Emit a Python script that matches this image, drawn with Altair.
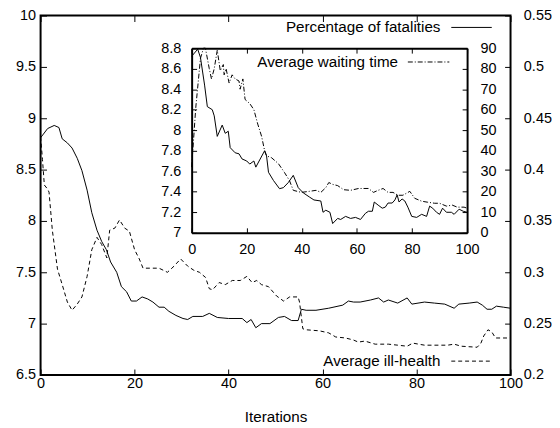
import altair as alt
import pandas as pd

# ---------------- data ----------------
iter_fat = [0, 1.5, 2.9, 3.9, 4.6, 5.7, 6.7, 7.8, 8.8, 9.9,
            10.9, 12, 13, 14, 14.9, 16.2, 17.2, 18.3, 19.3, 20.4,
            21.6, 22.8, 23.9, 25.2, 26.3, 27.3, 28.8, 30.3, 31.3, 32.4,
            34.5, 35.9, 37.6, 40, 42.9, 43.9, 44.8, 45.8, 47, 48.8,
            50.6, 51.9, 53.4, 54.8, 55.5, 56.5, 58.6, 61.3, 64.3, 65.5,
            66.6, 68, 70.2, 71.9, 73, 74, 76, 78, 79, 81.7,
            83.8, 86, 88, 89, 91.2, 92.9, 94, 95, 96, 97,
            98.5, 100]
fatalities = [8.81, 8.9, 8.93, 8.91, 8.8, 8.76, 8.71, 8.61, 8.49, 8.3,
              8.08, 7.91, 7.8, 7.72, 7.6, 7.5, 7.36, 7.31, 7.22, 7.22,
              7.26, 7.24, 7.21, 7.16, 7.16, 7.12, 7.08, 7.05, 7.04, 7.07,
              7.07, 7.1, 7.06, 7.05, 7.05, 7.01, 7.04, 6.96, 7.0, 7.0,
              7.06, 7.07, 7.03, 7.03, 7.14, 7.13, 7.13, 7.15, 7.18, 7.22,
              7.21, 7.21, 7.23, 7.25, 7.21, 7.23, 7.2, 7.25, 7.19, 7.21,
              7.2, 7.19, 7.15, 7.19, 7.2, 7.21, 7.18, 7.14, 7.14, 7.17,
              7.16, 7.15]

iter_ill = [0, 0.4, 0.8, 1.5, 1.8, 2.5, 3.6, 4.6, 5.7, 6.7,
            7.8, 8.8, 9.9, 10.9, 12, 13, 14.1, 14.7, 15.8, 16.8,
            17.9, 18.9, 20, 21, 21.8, 23.5, 25.2, 27, 28.4, 29.8,
            31.3, 32.6, 33.8, 35.1, 35.9, 36.6, 38, 39.3, 40.8, 42.5,
            43.9, 45, 46, 47, 48.5, 50.2, 51.7, 53, 54.8, 55.1,
            55.8, 56.5, 59.3, 61.3, 62.8, 64.9, 66.6, 67.6, 69, 71.2,
            74, 76, 78, 79.2, 81.7, 83.8, 86.6, 88, 89.5, 92.9,
            93.7, 94.3, 95.2, 96, 96.8, 97.9, 100]
ill_health = [0.432, 0.41, 0.385, 0.381, 0.378, 0.341, 0.303, 0.288, 0.271, 0.263,
              0.269, 0.276, 0.296, 0.322, 0.334, 0.327, 0.314, 0.341, 0.343, 0.351,
              0.343, 0.34, 0.322, 0.313, 0.304, 0.304, 0.304, 0.3, 0.306, 0.313,
              0.306, 0.302, 0.3, 0.295, 0.284, 0.283, 0.29, 0.288, 0.292, 0.292,
              0.296, 0.29, 0.292, 0.288, 0.286, 0.277, 0.272, 0.276, 0.276, 0.271,
              0.245, 0.244, 0.243, 0.241, 0.237, 0.236, 0.234, 0.232, 0.233, 0.23,
              0.23, 0.229, 0.228, 0.231, 0.229, 0.229, 0.229, 0.23, 0.228, 0.227,
              0.231, 0.238, 0.244, 0.242, 0.236, 0.236, 0.236]

inset_iter_fat = [0, 2.2, 3.2, 4.7, 5.7, 7.5, 8.2, 9.3, 11.1, 12.2,
                  13.3, 14, 15.8, 17.2, 18.3, 20, 21.1, 22.6, 23.3, 24.7,
                  26.5, 27.2, 27.9, 29.7, 31.9, 33.3, 35.1, 36.9, 38.7, 40.5,
                  42.7, 44.4, 46.9, 47.7, 48.7, 50.2, 51.2, 53, 54.1, 55.9,
                  57.7, 59.5, 61.3, 63.1, 64.2, 65.6, 66.3, 67.7, 69.2, 70.3,
                  71.3, 72.8, 73.8, 74.6, 75.3, 76.4, 77.4, 78.5, 79.9, 81.7,
                  83.5, 85.3, 86.4, 87.5, 88.9, 90, 91.1, 92.5, 94.3, 95.3,
                  97.1, 98.6, 100]
inset_fatalities = [8.72, 8.79, 8.71, 8.44, 8.23, 8.2, 8.14, 7.94, 8.05, 7.97,
                    7.99, 7.83, 7.78, 7.77, 7.72, 7.7, 7.67, 7.7, 7.64, 7.71,
                    7.8, 7.75, 7.59, 7.51, 7.43, 7.44, 7.49, 7.56, 7.44, 7.39,
                    7.35, 7.32, 7.31, 7.2, 7.22, 7.2, 7.09, 7.14, 7.13, 7.16,
                    7.14, 7.15, 7.13, 7.19, 7.21, 7.21, 7.3, 7.27, 7.24, 7.25,
                    7.29, 7.29, 7.32, 7.37, 7.3, 7.33, 7.31, 7.25, 7.16, 7.15,
                    7.18, 7.16, 7.26, 7.24, 7.2, 7.18, 7.24, 7.2, 7.2, 7.18,
                    7.23, 7.21, 7.2]

inset_iter_wait = [0, 1.5, 3.2, 4.3, 5, 6.4, 7.2, 8.2, 9.3, 10.4,
                   11.5, 11.8, 12.5, 13.6, 14.7, 15.8, 17.2, 17.6, 18.6, 19.4,
                   21.1, 22.6, 24, 25.4, 26.5, 27.2, 29, 31.5, 33.7, 35.5,
                   36.9, 39.8, 42.7, 45.2, 46.9, 48.7, 49.8, 51.2, 53, 55.2,
                   57.7, 60.6, 64.2, 66, 67.7, 69.5, 71.3, 73.1, 74.9, 76.7,
                   79.2, 81, 83.5, 85.7, 88.2, 90, 92.5, 94.6, 96.4, 98.9,
                   100]
waiting_time = [32, 61, 85, 90, 90, 80, 75, 80, 89, 79,
                82, 77, 80, 73, 77, 75, 74, 70, 75, 65,
                63, 60, 53, 47, 40, 37.5, 36.6, 33.7, 29.4, 25.5,
                20.7, 19.7, 20.2, 20.7, 19.7, 22, 24.5, 23.6, 23, 21,
                20.7, 21.6, 21.6, 19.7, 20.7, 21.6, 19.7, 19.7, 18.3, 18.3,
                20.2, 16.8, 15.4, 14.9, 14.4, 14.4, 13, 13.5, 12.5, 12.5,
                12]

x_ticks = [0, 20, 40, 60, 80, 100]
fat_ticks = [6.5, 7, 7.5, 8, 8.5, 9, 9.5, 10]
ill_ticks = [0.2, 0.25, 0.3, 0.35, 0.4, 0.45, 0.5, 0.55]
inset_fat_ticks = [7, 7.2, 7.4, 7.6, 7.8, 8, 8.2, 8.4, 8.6, 8.8]
wait_ticks = [0, 10, 20, 30, 40, 50, 60, 70, 80, 90]
legend_labels = ["Percentage of fatalities", "Average ill-health", "Average waiting time"]

# ---------------- layout / style ----------------
W, H = 476, 364
IX = [153, 432]
IY = [220, 33]
FONT = "Liberation Sans"
FS = 14.6
LFS = 15.4
DASH = [4, 3]
DASHDOT = [5, 2, 1, 2]
FMT = ".2~f"

df_fat = pd.DataFrame({"t": iter_fat, "v": fatalities})
df_ill = pd.DataFrame({"t": iter_ill, "v": ill_health})
df_ifat = pd.DataFrame({"t": inset_iter_fat, "v": inset_fatalities})
df_wait = pd.DataFrame({"t": inset_iter_wait, "v": waiting_time})


def ax(**kw):
    base = dict(grid=False, labelFont=FONT, labelFontSize=FS, labelColor="black",
                labelFlush=False, labelOverlap=False, tickColor="black",
                domainColor="black")
    base.update(kw)
    return alt.Axis(**base)


def label_axis(orient, values, offset=0, pad=5, domain=False, **kw):
    return ax(orient=orient, values=values, offset=offset, ticks=False, tickSize=0,
              domain=domain, domainWidth=2, labelPadding=pad, format=FMT, **kw)


def tick_axis(orient, values, offset, size):
    return ax(orient=orient, values=values, offset=offset, ticks=True, tickSize=size,
              tickWidth=1, labels=False, domain=False)


def sc(domain, rng):
    return alt.Scale(domain=domain, range=rng, nice=False, zero=False)


sx_main = sc([0, 100], [0, W])
sy_fat = sc([6.5, 10], [H, 0])
sy_ill = sc([0.2, 0.55], [H, 0])
sx_in = sc([0, 100], IX)
sy_ifat = sc([7, 8.8], IY)
sy_wait = sc([0, 90], IY)


def line(df, sx, sy, xa, ya, dash=None, opacity=1.0, xtitle=None):
    mk = dict(color="black", strokeWidth=1, opacity=opacity)
    if dash:
        mk["strokeDash"] = dash
    return alt.Chart(df).mark_line(**mk).encode(
        x=alt.X("t:Q", scale=sx, axis=xa, title=xtitle),
        y=alt.Y("v:Q", scale=sy, axis=ya, title=None),
    )


main_x_axis = label_axis("bottom", x_ticks, pad=1, titleFont=FONT, titleFontSize=LFS,
                         titleFontWeight="normal", titleColor="black", titlePadding=20)

layers = [
    # main plot
    line(df_fat, sx_main, sy_fat, main_x_axis, label_axis("left", fat_ticks, pad=5),
         xtitle="Iterations"),
    line(df_ill, sx_main, sy_ill, tick_axis("top", x_ticks, -6, 6),
         label_axis("right", ill_ticks, pad=13), dash=DASH),
    line(df_fat, sx_main, sy_fat, tick_axis("bottom", x_ticks, -6, 6),
         tick_axis("left", fat_ticks, -6, 6), opacity=0),
    line(df_ill, sx_main, sy_ill, None, tick_axis("right", ill_ticks, -6, 6), opacity=0),
    # inset
    line(df_ifat, sx_in, sy_ifat,
         label_axis("bottom", x_ticks, offset=-(H - IY[0]), pad=9, domain=True),
         label_axis("left", inset_fat_ticks, offset=-IX[0], pad=11, domain=True)),
    line(df_wait, sx_in, sy_wait, tick_axis("top", x_ticks, -(IY[1] + 5), 5),
         label_axis("right", wait_ticks, offset=-(W - IX[1]), pad=13, domain=True),
         dash=DASHDOT),
    line(df_ifat, sx_in, sy_ifat, tick_axis("bottom", x_ticks, -(H - IY[0] + 5), 5),
         tick_axis("left", inset_fat_ticks, -(IX[0] + 5), 5), opacity=0),
    line(df_wait, sx_in, sy_wait,
         ax(orient="top", offset=-IY[1], ticks=False, labels=False, domain=True, domainWidth=2),
         tick_axis("right", wait_ticks, -(W - IX[1] + 5), 5), opacity=0),
]

# legend entries (gnuplot style: text then line sample)
legend_pos = [(405, 12, 416, 457, None), (405, 350, 416, 457, DASH), (362, 47, 372, 414, DASHDOT)]
for lab, (tx, ty, l0, l1, dash) in zip(legend_labels, legend_pos):
    d = pd.DataFrame({"label": [lab]})
    layers.append(
        alt.Chart(d).mark_text(align="right", baseline="middle", font=FONT, fontSize=LFS,
                               color="black")
        .encode(x=alt.value(tx), y=alt.value(ty), text="label:N")
    )
    rk = dict(color="black", strokeWidth=1)
    if dash:
        rk["strokeDash"] = dash
    layers.append(
        alt.Chart(d).mark_rule(**rk)
        .encode(x=alt.value(l0), x2=alt.value(l1), y=alt.value(ty))
    )

chart = (
    alt.layer(*layers)
    .resolve_scale(x="independent", y="independent")
    .properties(width=W, height=H,
                padding={"left": 33, "top": 5, "right": 42, "bottom": 48},
                autosize=alt.AutoSizeParams(type="none"))
    .configure_view(stroke="black", strokeWidth=2)
)

chart.save("out.html", embed_options={"renderer": "svg", "actions": False})
